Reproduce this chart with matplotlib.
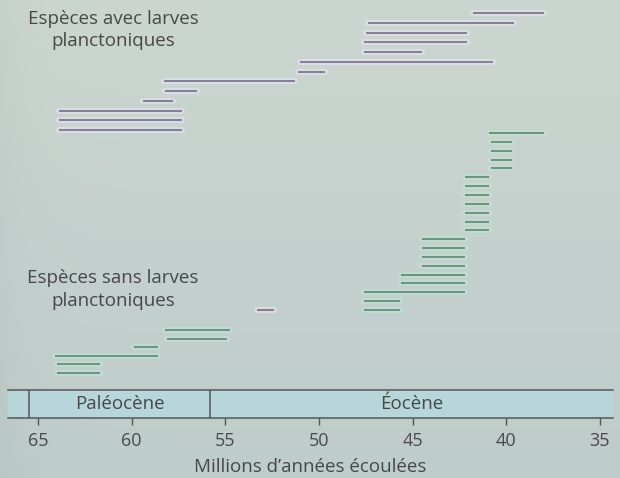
import matplotlib
matplotlib.use('Agg')
import matplotlib.pyplot as plt
import numpy as np

plt.rcParams['font.family'] = ['Open Sans', 'DejaVu Sans']

# species ranges (Ma), top to bottom
purple_start = [41.8, 47.4, 47.5, 47.6, 47.6, 51.0, 51.1, 58.3, 58.2, 59.4, 63.9, 63.9, 63.9]
purple_end = [38.0, 39.6, 42.1, 42.1, 44.5, 40.7, 49.7, 51.3, 56.5, 57.8, 57.3, 57.3, 57.3]

green_eo_start = [40.9, 40.8, 40.8, 40.8, 40.8,
                  42.2, 42.2, 42.2, 42.2, 42.2, 42.2, 42.2,
                  44.5, 44.5, 44.5, 44.5, 45.6, 45.6, 47.6, 47.6, 47.6]
green_eo_end = [38.0, 39.7, 39.7, 39.7, 39.7,
                40.9, 40.9, 40.9, 40.9, 40.9, 40.9, 40.9,
                42.2, 42.2, 42.2, 42.2, 42.2, 42.2, 42.2, 45.7, 45.7]

green_pal_start = [58.2, 58.1, 59.9, 64.1, 64.0, 64.0]
green_pal_end = [54.75, 54.9, 58.6, 58.6, 61.7, 61.7]

odd_start = [53.3]
odd_end = [52.4]

periods = ['Paléocène', 'Éocène']
period_bounds = [65.5, 55.8, 34.3]
ticks = [65, 60, 55, 50, 45, 40, 35]

XLIM = (67.03, 33.93)

fig = plt.figure(figsize=(6.2, 4.78), dpi=100)
ax = fig.add_axes([0, 0, 1, 1])
ax.set_xlim(*XLIM)
ax.set_ylim(478, 0)
ax.axis('off')

# background gradient
top = np.array([204, 214, 208]) / 255
bot = np.array([190, 204, 203]) / 255
gy = np.linspace(0, 1, 200)[:, None]
gx = np.linspace(0, 1, 200)[None, :]
img = top[None, None, :] * (1 - gy[..., None]) + bot[None, None, :] * gy[..., None]
img = img - 0.02 * np.exp(-gx[..., None] * 25)
ax.imshow(np.clip(img, 0, 1), extent=(XLIM[0], XLIM[1], 478, 0), aspect='auto', zorder=0)


def draw_bars(starts, ends, y0, step, core, glow):
    for i, (s, e) in enumerate(zip(starts, ends)):
        y = y0 + i * step
        ax.plot([s, e], [y, y], color=glow, lw=4.5, alpha=0.6, solid_capstyle='round', zorder=2)
        ax.plot([s, e], [y, y], color=core, lw=1.2, alpha=0.85, solid_capstyle='butt', zorder=3)


draw_bars(purple_start, purple_end, 13, 9.75, '#6a577a', '#e2e6ee')
draw_bars(green_eo_start, green_eo_end, 133, 8.85, '#4a7a62', '#bfe4d2')
draw_bars(green_pal_start, green_pal_end, 330, 8.6, '#4a7a62', '#bfe4d2')
draw_bars(odd_start, odd_end, 310, 0, '#7a5068', '#e4e6ee')

txt = dict(ha='center', va='center', fontsize=13.5, color='#474747', linespacing=1.32, zorder=4)
ax.text(61.0, 30, 'Espèces avec larves\nplanctoniques', **txt)
ax.text(61.0, 289.5, 'Espèces sans larves\nplanctoniques', **txt)

# time scale band
band = fig.add_axes([0, 1 - 418 / 478, 1, 28 / 478])
band.set_xlim(*XLIM)
band.set_ylim(0, 1)
band.patch.set_alpha(0)
left_edge = period_bounds[0] + 1.1
band.axvspan(left_edge, period_bounds[-1], color='#b6d6da', zorder=0)
for x in period_bounds[:-1]:
    band.axvline(x, color='#555555', lw=1.1)
for i, name in enumerate(periods):
    band.text((period_bounds[i] + period_bounds[i + 1]) / 2, 0.5, name,
              ha='center', va='center', fontsize=13.5, color='#474747')
for side in ['left', 'right']:
    band.spines[side].set_visible(False)
for side in ['top', 'bottom']:
    band.spines[side].set_bounds(left_edge, period_bounds[-1])
    band.spines[side].set_color('#555555')
    band.spines[side].set_linewidth(1.1)
band.set_yticks([])
band.set_xticks(ticks)
band.set_xticklabels([str(t) for t in ticks])
band.tick_params(axis='x', direction='out', length=5, width=1, color='#555555',
                 labelsize=13, labelcolor='#4a4a4a', pad=5)
band.set_xlabel('Millions d’années écoulées', fontsize=13.5, color='#474747', labelpad=6)

plt.savefig('out.png', dpi=100)
plt.close()
